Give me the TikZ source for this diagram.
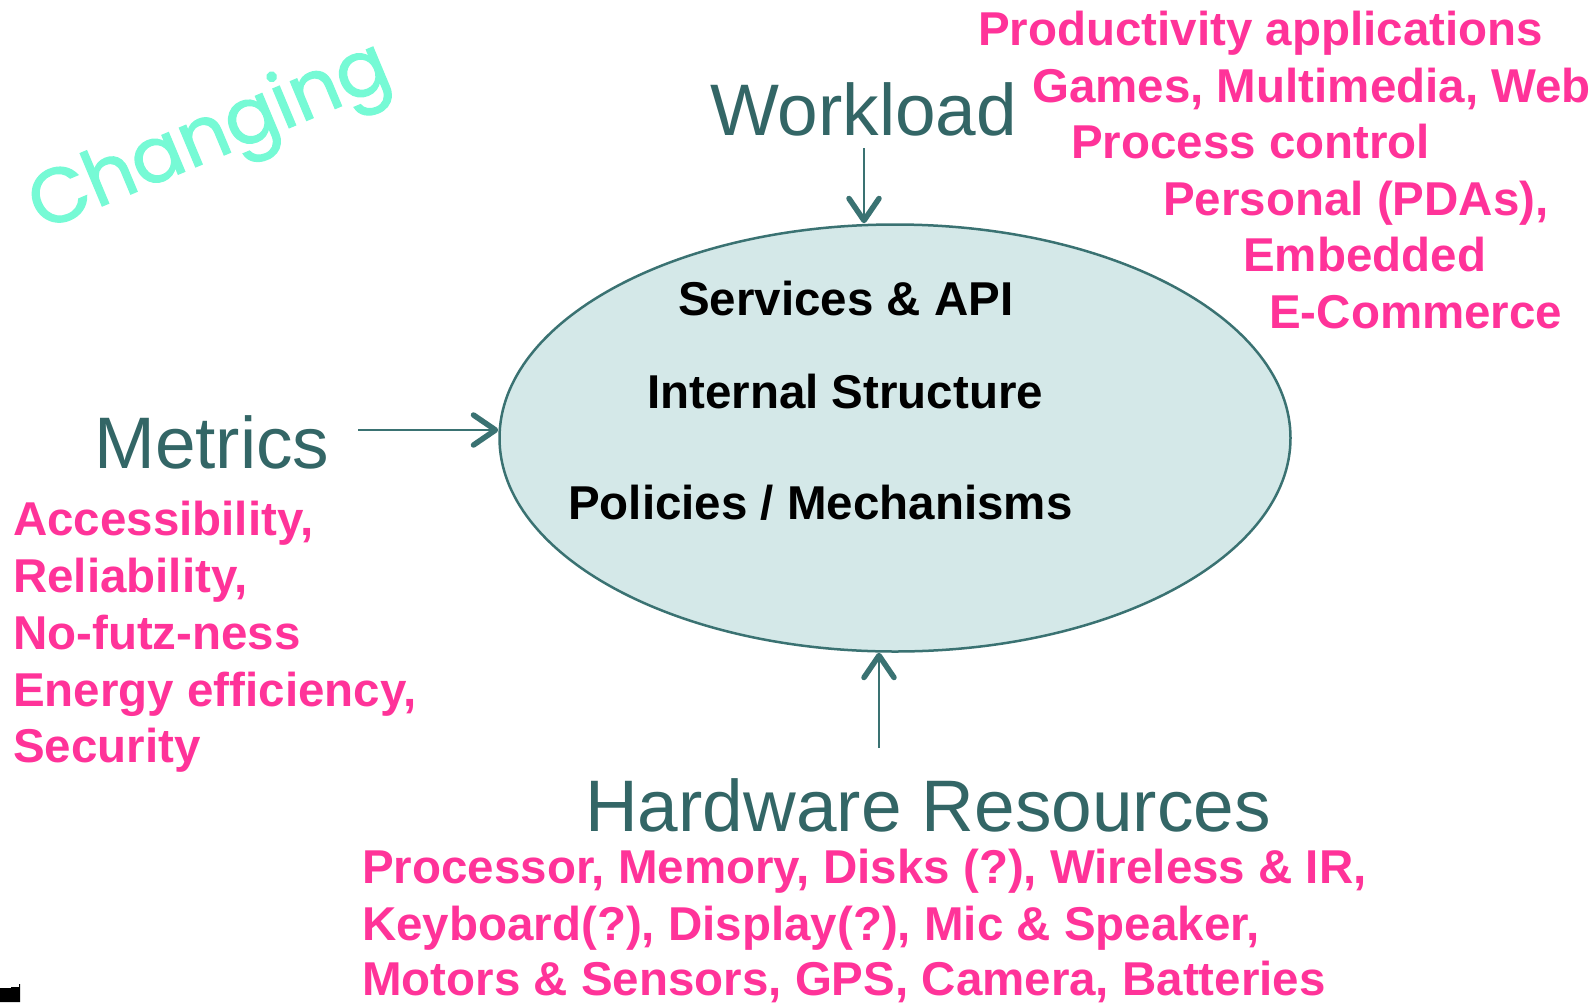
\documentclass[tikz,border=0pt]{standalone}
\usepackage{fontspec}
\setmainfont{Liberation Sans}
\newfontfamily\handfont{Poppins}[FakeBold=1.6]
\usetikzlibrary{shapes.geometric,arrows.meta}

\definecolor{pinkc}{HTML}{FF3399}
\definecolor{tealc}{HTML}{336666}
\definecolor{tealline}{HTML}{3A7272}
\definecolor{corefill}{HTML}{D4E8E8}
\definecolor{aquac}{HTML}{76FAD5}

\tikzset{
  pinktxt/.style={anchor=base west, inner sep=0pt, text=pinkc,
    font=\fontsize{47.5}{57}\selectfont\bfseries},
  coretxt/.style={anchor=base west, inner sep=0pt, text=black,
    font=\fontsize{47.5}{57}\selectfont\bfseries},
  headtxt/.style={anchor=base west, inner sep=0pt, text=tealc,
    font=\fontsize{73}{80}\selectfont},
  flow/.style={draw=tealline, line width=2.5pt,
    -{Straight Barb[length=22pt,width=30pt,line width=5.5pt,round]}},
}

\begin{document}
\begin{tikzpicture}[x=1pt,y=-1pt]
\useasboundingbox (0,0) rectangle (1595,1002);

% central ellipse
\node (core) [ellipse, draw=tealline, line width=2.5pt, fill=corefill,
  minimum width=791pt, minimum height=427pt, inner sep=0pt] at (895,438) {};
\node (svc) [coretxt] at (678,315) {Services \& API};
\node (ist) [coretxt] at (647,408) {Internal Structure};
\node (pol) [coretxt] at (568,519) {Policies / Mechanisms};

% the four influences
\node (wl) [headtxt] at (710,135) {Workload};
\node (mt) [headtxt] at (94,468) {Metrics};
\node (hw) [headtxt] at (585,831) {Hardware Resources};

\coordinate (wlfoot) at (864,148);
\coordinate (mtfoot) at (358,430);
\coordinate (hwfoot) at (879,748);
\draw[flow] (wlfoot) -- (wlfoot |- core.north);
\draw[flow] (mtfoot) -- (mtfoot -| core.west);
\draw[flow] (hwfoot) -- (hwfoot |- core.south);

% workload examples
\node (w1) [pinktxt] at (978,45)  {Productivity applications};
\node (w2) [pinktxt] at (1032,102) {Games, Multimedia, Web};
\node (w3) [pinktxt] at (1071,158) {Process control};
\node (w4) [pinktxt] at (1163,215) {Personal (PDAs),};
\node (w5) [pinktxt] at (1243,271) {Embedded};
\node (w6) [pinktxt] at (1269,328) {E-Commerce};

% metric examples
\node (m1) [pinktxt] at (13,535) {Accessibility,};
\node (m2) [pinktxt] at (13,592) {Reliability,};
\node (m3) [pinktxt] at (13,649) {No-futz-ness};
\node (m4) [pinktxt] at (13,706) {Energy efficiency,};
\node (m5) [pinktxt] at (13,762) {Security};

% hardware examples
\node (h1) [pinktxt] at (362,883) {Processor, Memory, Disks (?), Wireless \& IR,};
\node (h2) [pinktxt] at (362,940) {Keyboard(?), Display(?), Mic \& Speaker,};
\node (h3) [pinktxt] at (362,995) {Motors \& Sensors, GPS, Camera, Batteries};

% slanted heading
\node (chg) [rotate=22.7, inner sep=0pt, text=aquac,
  font=\handfont\fontsize{77}{77}\selectfont] at (211,140) {Changing};

% small dark mark in the corner
\fill[black] (0,988) -- (11,988) -- (11,987) -- (19,987) -- (19,984)
  -- (20,984) -- (20,1002) -- (0,1002) -- cycle;
\end{tikzpicture}
\end{document}
